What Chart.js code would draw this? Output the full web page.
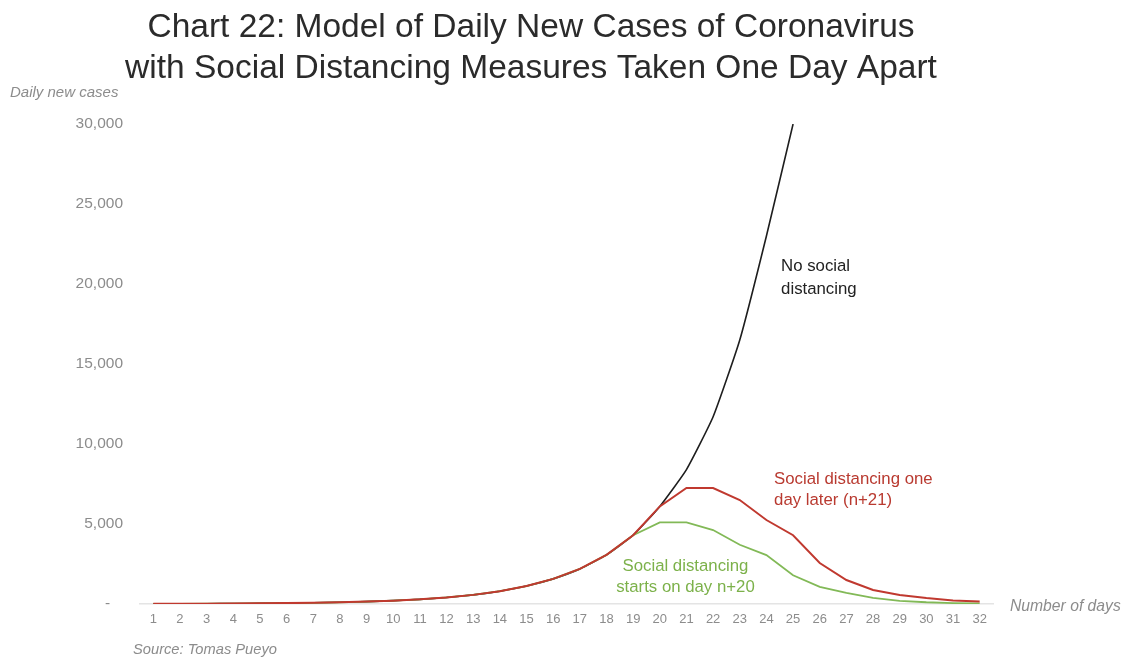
<!DOCTYPE html>
<html>
<head>
<meta charset="utf-8">
<script src="https://cdn.jsdelivr.net/npm/chart.js@4.4.1/dist/chart.umd.min.js"></script>
<style>
  html, body { margin: 0; padding: 0; background: #fff; }
  #wrap { width: 1124px; height: 659px; }
</style>
</head>
<body>
<div id="wrap"><canvas id="chart22" width="1124" height="659"></canvas></div>
<script>
const days = ["1","2","3","4","5","6","7","8","9","10","11","12","13","14","15","16",
  "17","18","19","20","21","22","23","24","25","26","27","28","29","30","31","32"];

// daily new cases
const noDistancing = [10, 14, 20, 28, 40, 55, 75, 105, 150, 210, 290, 410, 570, 800, 1120, 1570,
  2190, 3070, 4300, 6100, 8400, 11700, 16500, 23000, 30000];
const oneDayLater = [10, 14, 20, 28, 40, 55, 75, 105, 150, 210, 290, 410, 570, 800, 1120, 1570,
  2190, 3070, 4300, 6100, 7250, 7250, 6500, 5250, 4300, 2560, 1500, 880, 560, 370, 220, 150];
const startsDay20 = [10, 14, 20, 28, 40, 55, 75, 105, 150, 210, 290, 410, 570, 800, 1120, 1570,
  2190, 3070, 4300, 5100, 5100, 4620, 3700, 3060, 1800, 1070, 690, 380, 200, 110, 60, 40];

const yTicks = [0, 5000, 10000, 15000, 20000, 25000, 30000];

const grey = "#8c8c8c";
const font = "'Liberation Sans', Arial, Helvetica, sans-serif";

const textPlugin = {
  id: "texts",
  afterDraw(chart) {
    const ctx = chart.ctx;
    const xs = chart.scales.x, ys = chart.scales.y;
    ctx.save();
    ctx.textBaseline = "middle";

    // title
    ctx.fillStyle = "#2b2b2b";
    ctx.font = "33.5px " + font;
    ctx.textAlign = "center";
    ctx.fillText("Chart 22: Model of Daily New Cases of Coronavirus", 531, 28);
    ctx.fillText("with Social Distancing Measures Taken One Day Apart", 531, 69);

    // axis captions
    ctx.fillStyle = grey;
    ctx.textAlign = "left";
    ctx.font = "italic 15px " + font;
    ctx.fillText("Daily new cases", 10, 93);
    ctx.font = "italic 14.7px " + font;
    ctx.fillText("Source: Tomas Pueyo", 133, 650);
    ctx.font = "italic 15.7px " + font;
    ctx.fillText("Number of days", 1010, 607);

    // series labels
    ctx.font = "16.8px " + font;
    ctx.fillStyle = "#222";
    const nx = xs.getPixelForValue(24) - 12;
    ctx.fillText("No social", nx, ys.getPixelForValue(21100));
    ctx.fillText("distancing", nx, ys.getPixelForValue(19650));

    ctx.fillStyle = "#b93a30";
    const rx = xs.getPixelForValue(24) - 19;
    ctx.fillText("Social distancing one", rx, ys.getPixelForValue(7800));
    ctx.fillText("day later (n+21)", rx, ys.getPixelForValue(6450));

    ctx.fillStyle = "#7cb14a";
    ctx.textAlign = "center";
    const gx = xs.getPixelForValue(20) - 1;
    ctx.fillText("Social distancing", gx, ys.getPixelForValue(2380));
    ctx.fillText("starts on day n+20", gx, ys.getPixelForValue(1060));
    ctx.restore();
  }
};

new Chart(document.getElementById("chart22"), {
  type: "line",
  data: {
    labels: days,
    datasets: [
      { data: oneDayLater, borderColor: "#c0392f", borderWidth: 2, pointRadius: 0, tension: 0 },
      { data: startsDay20, borderColor: "#82b957", borderWidth: 1.8, pointRadius: 0, tension: 0 },
      { data: noDistancing, borderColor: "#1e1e1e", borderWidth: 1.6, pointRadius: 0, tension: 0.15 },
    ],
  },
  options: {
    responsive: false,
    animation: false,
    layout: { padding: { left: 0, right: 131, top: 124, bottom: 25 } },
    plugins: { legend: { display: false }, tooltip: { enabled: false } },
    scales: {
      x: {
        offset: true,
        grid: { display: false },
        border: { display: true, color: "#e4e4e4", width: 1.5 },
        ticks: { color: grey, font: { family: font, size: 13 }, padding: 0, maxRotation: 0, autoSkip: false },
        afterFit(scale) { scale.height = 30; },
      },
      y: {
        min: 0,
        max: 30000,
        grid: { display: false },
        border: { display: false },
        afterBuildTicks(scale) { scale.ticks = yTicks.map(v => ({ value: v })); },
        ticks: {
          color: grey,
          font: { family: font, size: 15.5 },
          padding: 9,
          callback: v => (v === 0 ? "-   " : v.toLocaleString("en-US")),
        },
        afterFit(scale) { scale.width = 140; },
      },
    },
  },
  plugins: [textPlugin],
});
</script>
</body>
</html>
